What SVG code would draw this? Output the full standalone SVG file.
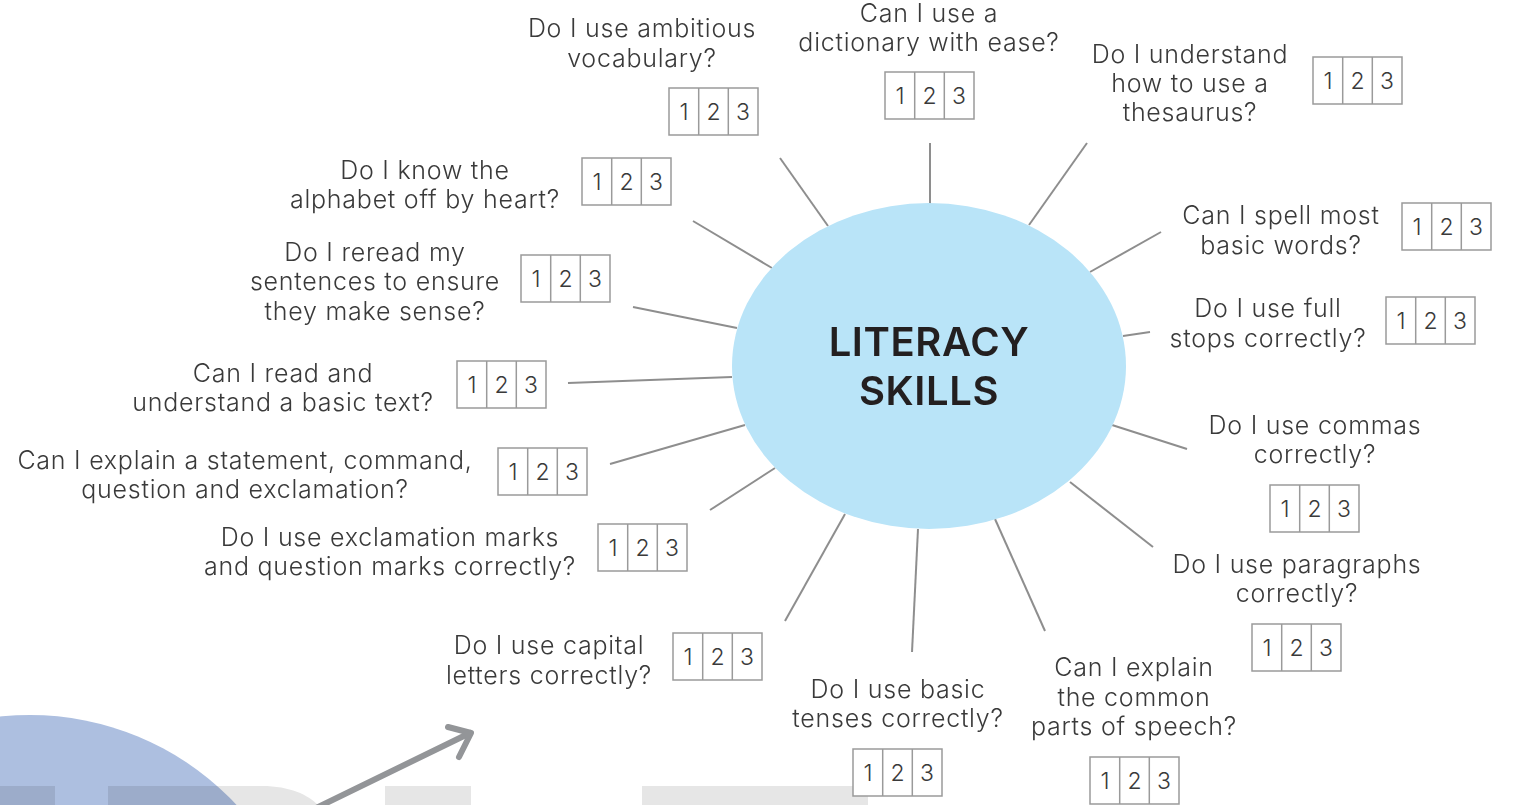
<svg xmlns="http://www.w3.org/2000/svg" xmlns:xlink="http://www.w3.org/1999/xlink" width="1519" height="805" viewBox="0 0 1519 805">
<style>
.q{font-family:Inter,"Open Sans","Liberation Sans",sans-serif;font-weight:300;font-size:25px;letter-spacing:0.75px;fill:#3a3a3a;text-anchor:middle}
.n{font-family:Inter,"Open Sans","Liberation Sans",sans-serif;font-weight:300;font-size:23px;fill:#3a3a3a;text-anchor:middle}
.box{fill:#fff;stroke:#9a9a9a;stroke-width:1.5}
.spoke{stroke:#8e8e8e;stroke-width:2;fill:none}
.title{font-family:Inter,"Liberation Sans",sans-serif;font-weight:600;font-size:40px;fill:#231f20;text-anchor:middle;letter-spacing:0.6px}
.wm{fill:#e6e6e6;mix-blend-mode:multiply}
</style>
<defs>
<g id="b123">
<rect class="box" x="0" y="0" width="89" height="47"/>
<line x1="29.7" y1="0" x2="29.7" y2="47" stroke="#9a9a9a" stroke-width="1.5"/>
<line x1="59.3" y1="0" x2="59.3" y2="47" stroke="#9a9a9a" stroke-width="1.5"/>
<text class="n" x="15" y="32">1</text>
<text class="n" x="44.5" y="32">2</text>
<text class="n" x="74" y="32">3</text>
</g>
</defs>
<rect width="1519" height="805" fill="#fff"/>
<g id="background">
<circle cx="30" cy="997" r="282" fill="#adbfe0"/>
<rect class="wm" x="0" y="786" width="55" height="19"/>
<path class="wm" d="M108 786 H262 C290 786 308 795 318 805 H108 Z"/>
<rect class="wm" x="385" y="786" width="86" height="19"/>
<rect class="wm" x="642" y="786" width="226" height="19"/>
<g stroke="#939598" stroke-width="6" fill="none" stroke-linecap="round" stroke-linejoin="round">
<line x1="312" y1="810" x2="470" y2="733"/>
<polyline points="448,727 471,733 459,757"/>
</g>
</g>
<g id="connectors">
<line class="spoke" x1="780" y1="158" x2="828" y2="226"/>
<line class="spoke" x1="930" y1="143" x2="930" y2="204"/>
<line class="spoke" x1="1087" y1="143" x2="1029" y2="225"/>
<line class="spoke" x1="693" y1="221" x2="772" y2="268"/>
<line class="spoke" x1="1161" y1="232" x2="1090" y2="272"/>
<line class="spoke" x1="633" y1="307" x2="737" y2="328"/>
<line class="spoke" x1="1150" y1="332" x2="1123" y2="336"/>
<line class="spoke" x1="568" y1="383" x2="732" y2="377"/>
<line class="spoke" x1="1112" y1="425" x2="1187" y2="449"/>
<line class="spoke" x1="610" y1="464" x2="745" y2="425"/>
<line class="spoke" x1="710" y1="510" x2="775" y2="468"/>
<line class="spoke" x1="1070" y1="482" x2="1153" y2="547"/>
<line class="spoke" x1="785" y1="621" x2="845" y2="514"/>
<line class="spoke" x1="912" y1="652" x2="918" y2="529"/>
<line class="spoke" x1="995" y1="519" x2="1045" y2="631"/>
</g>
<g id="center">
<ellipse cx="929" cy="366" rx="197" ry="163" fill="#b9e4f8"/>
<text class="title" x="929" y="356">LITERACY</text>
<text class="title" x="929" y="405">SKILLS</text>
</g>
<g id="q-ambitious"><text class="q" x="642" y="37">Do I use ambitious</text><text class="q" x="642" y="67">vocabulary?</text><use xlink:href="#b123" x="669" y="88"/></g>
<g id="q-dictionary"><text class="q" x="929" y="22">Can I use a</text><text class="q" x="929" y="51">dictionary with ease?</text><use xlink:href="#b123" x="885" y="72"/></g>
<g id="q-thesaurus"><text class="q" x="1190" y="63">Do I understand</text><text class="q" x="1190" y="92">how to use a</text><text class="q" x="1190" y="121">thesaurus?</text><use xlink:href="#b123" x="1313" y="57"/></g>
<g id="q-alphabet"><text class="q" x="425" y="179">Do I know the</text><text class="q" x="425" y="208">alphabet off by heart?</text><use xlink:href="#b123" x="582" y="158"/></g>
<g id="q-reread"><text class="q" x="375" y="261">Do I reread my</text><text class="q" x="375" y="290">sentences to ensure</text><text class="q" x="375" y="320">they make sense?</text><use xlink:href="#b123" x="521" y="255"/></g>
<g id="q-spell"><text class="q" x="1281" y="224">Can I spell most</text><text class="q" x="1281" y="254">basic words?</text><use xlink:href="#b123" x="1402" y="203"/></g>
<g id="q-fullstops"><text class="q" x="1268" y="317">Do I use full</text><text class="q" x="1268" y="347">stops correctly?</text><use xlink:href="#b123" x="1386" y="297"/></g>
<g id="q-read"><text class="q" x="283" y="382">Can I read and</text><text class="q" x="283" y="411">understand a basic text?</text><use xlink:href="#b123" x="457" y="361"/></g>
<g id="q-statement"><text class="q" x="245" y="469">Can I explain a statement, command,</text><text class="q" x="245" y="498">question and exclamation?</text><use xlink:href="#b123" x="498" y="448"/></g>
<g id="q-exclamation"><text class="q" x="390" y="546">Do I use exclamation marks</text><text class="q" x="390" y="575">and question marks correctly?</text><use xlink:href="#b123" x="598" y="524"/></g>
<g id="q-commas"><text class="q" x="1315" y="434">Do I use commas</text><text class="q" x="1315" y="463">correctly?</text><use xlink:href="#b123" x="1270" y="485"/></g>
<g id="q-paragraphs"><text class="q" x="1297" y="573">Do I use paragraphs</text><text class="q" x="1297" y="602">correctly?</text><use xlink:href="#b123" x="1252" y="624"/></g>
<g id="q-capital"><text class="q" x="549" y="654">Do I use capital</text><text class="q" x="549" y="684">letters correctly?</text><use xlink:href="#b123" x="673" y="633"/></g>
<g id="q-tenses"><text class="q" x="898" y="698">Do I use basic</text><text class="q" x="898" y="727">tenses correctly?</text><use xlink:href="#b123" x="853" y="749"/></g>
<g id="q-speech"><text class="q" x="1134" y="676">Can I explain</text><text class="q" x="1134" y="706">the common</text><text class="q" x="1134" y="735">parts of speech?</text><use xlink:href="#b123" x="1090" y="757"/></g>
</svg>
